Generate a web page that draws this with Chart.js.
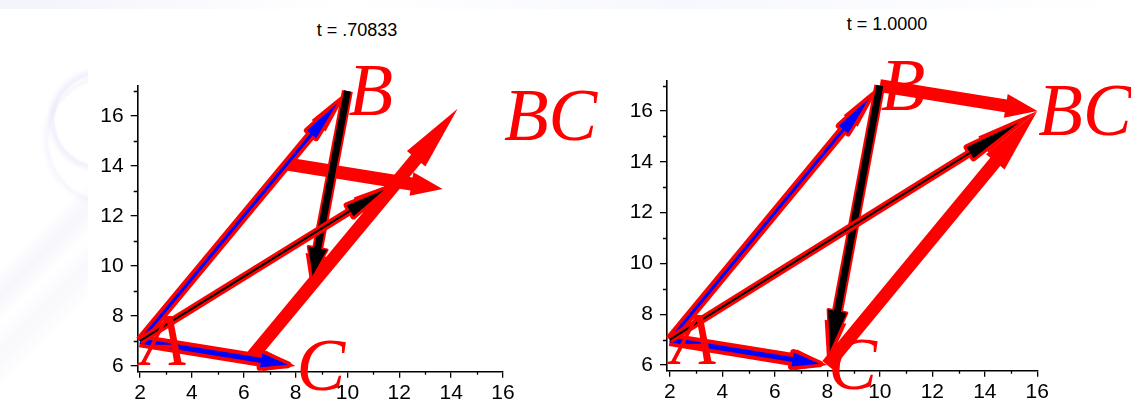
<!DOCTYPE html>
<html><head><meta charset="utf-8">
<script src="https://cdn.jsdelivr.net/npm/chart.js@4.4.1/dist/chart.umd.min.js"></script>
<style>
html,body{margin:0;padding:0;background:#fff;width:1131px;height:403px;overflow:hidden;position:relative;font-family:"Liberation Sans",Arial,sans-serif;}
#wm{position:absolute;left:0;top:0;width:88px;height:403px;
 background:
  radial-gradient(circle at 100px 120px, rgba(255,255,255,0) 44px, rgba(214,204,240,.3) 47px, rgba(255,255,255,0) 54px),
  radial-gradient(circle at 110px 140px, rgba(255,255,255,0) 60px, rgba(225,218,245,.25) 63px, rgba(255,255,255,0) 70px),
  linear-gradient(135deg, rgba(255,255,255,0) 55%, rgba(225,225,245,.3) 60%, rgba(255,255,255,0) 66%, rgba(230,230,248,.25) 72%, rgba(255,255,255,0) 80%);}
#wt{position:absolute;left:0;top:0;width:1131px;height:9px;background:linear-gradient(90deg,rgba(230,232,248,.5),rgba(255,255,255,0) 30%,rgba(235,238,250,.4) 60%,rgba(255,255,255,0));}
canvas{position:absolute;top:0;}
#c1{left:0;} #c2{left:566px;}
.title{position:absolute;font-size:18px;line-height:22px;transform:translateX(-50%);white-space:pre;color:#000;}
</style></head><body>
<div id="wm"></div><div id="wt"></div>
<div class="title" id="t1" style="left:357px;top:19px;"></div>
<div class="title" id="t2" style="left:887px;top:13px;"></div>
<canvas id="c2" width="565" height="403"></canvas>
<canvas id="c1" width="640" height="403"></canvas>
<script>
// ---------- data ----------
const xTicks = [2, 4, 6, 8, 10, 12, 14, 16];
const yTicks = [6, 8, 10, 12, 14, 16];
const xMinor = [3, 5, 7, 9, 11, 13, 15];
const yMinor = [7, 9, 11, 13, 15, 17];
const titles = ['t = .70833', 't = 1.0000'];
const labelText = ['A', 'B', 'C', 'BC'];
const labelX = [2, 10, 8, 16];
const labelY = [7, 17, 6, 16];
// arrows: A->B, A->C, B->C (moving), A->BC (moving), shifted A->C, shifted A->B
const leftTail = [[2, 7], [2, 7], [10, 17], [2, 7], [7.67, 14.08], [6.25, 6.29]];
const leftTip = [[10, 17], [8, 6], [8.58, 9.21], [11.92, 13.37], [13.67, 13.08], [14.25, 16.29]];
const leftInnerTip = [[9.6, 16.5], [7.7, 6.05], [8.65, 9.6], [11.42, 13.05], null, null];
const rightTail = [[2, 7], [2, 7], [10, 17], [2, 7], [10, 17], [8, 6]];
const rightTip = [[10, 17], [8, 6], [8, 6], [16, 16], [16, 16], [16, 16]];
const rightInnerTip = [[9.6, 16.5], [7.7, 6.05], [8.1, 6.55], [15.3, 15.55], null, null];

// ---------- styles ----------
const RED = '#ff0000';
const arrowStyle = [
  {under: 10, inner: 3, color: '#0000ff', headW: 12, headFrac: 0.13, outline: 3},
  {under: 13, inner: 5, color: '#0000ff', headW: 14, headFrac: 0.18, outline: 3.5},
  {under: 11, inner: 7, color: '#000000', headW: 19, headFrac: 0.15, outline: 1.5},
  {under: 8, inner: 2, color: '#000000', headW: 13, headFrac: 0.14, outline: 3},
  {under: 13, headW: 24, headFrac: 0.2},
  {under: 13, headW: 24, headFrac: 0.2}
];
const drawSeq = [4, 5, 0, 1, 2, 3];

function pt(p) { return {x: p[0], y: p[1]}; }
function buildDatasets(tails, tips, innerTips) {
  const list = [];
  drawSeq.forEach(i => {
    const s = arrowStyle[i];
    list.push({
      data: [pt(tails[i]), pt(tips[i])], borderColor: RED, borderWidth: s.under,
      arrow: {w: s.outline ? s.headW + 2 * s.outline : s.headW, frac: s.headFrac, extra: s.outline || 0, fill: RED}
    });
    if (innerTips[i]) {
      list.push({
        data: [pt(tails[i]), pt(innerTips[i])], borderColor: s.color, borderWidth: s.inner,
        arrow: {w: s.headW, frac: s.headFrac, extra: 0, fill: s.color, outline: s.outline}
      });
    }
  });
  list.forEach((d, k) => Object.assign(d, {
    order: list.length - k, showLine: true, pointRadius: 0, pointHoverRadius: 0,
    fill: false, tension: 0, clip: false, borderCapStyle: 'butt', borderJoinStyle: 'miter'
  }));
  return list;
}

function headPath(ctx, g, w) {
  const bx = g.tx - g.ux * g.hl, by = g.ty - g.uy * g.hl;
  const nx = -g.uy, ny = g.ux;
  ctx.beginPath();
  ctx.moveTo(g.tx, g.ty);
  ctx.lineTo(bx + nx * w / 2, by + ny * w / 2);
  ctx.lineTo(bx - nx * w / 2, by - ny * w / 2);
  ctx.closePath();
}

const arrowPlugin = {
  id: 'arrowHeads',
  beforeDatasetDraw(chart, args) {
    const ds = chart.data.datasets[args.index];
    const a = ds.arrow; if (!a) return;
    const p0 = args.meta.data[0], p1 = args.meta.data[1];
    const dx = p1.x - p0.x, dy = p1.y - p0.y, L = Math.hypot(dx, dy);
    const g = {tx: p1.x, ty: p1.y, ux: dx / L, uy: dy / L, hl: a.frac * L + a.extra};
    a._g = g;
    const ctx = chart.ctx;
    if (a.outline) {
      ctx.save();
      headPath(ctx, g, a.w);
      ctx.lineJoin = 'round';
      ctx.lineWidth = 2 * a.outline;
      ctx.strokeStyle = RED;
      ctx.stroke();
      ctx.restore();
    }
    p1.x = g.tx - g.ux * g.hl * 0.8;
    p1.y = g.ty - g.uy * g.hl * 0.8;
  },
  afterDatasetDraw(chart, args) {
    const ds = chart.data.datasets[args.index];
    const a = ds.arrow; if (!a || !a._g) return;
    const p1 = args.meta.data[1];
    p1.x = a._g.tx; p1.y = a._g.ty;
    const ctx = chart.ctx;
    ctx.save();
    headPath(ctx, a._g, a.w);
    ctx.fillStyle = a.fill;
    ctx.fill();
    ctx.restore();
  },
  afterDatasetsDraw(chart) {
    const ctx = chart.ctx, xs = chart.scales.x, ys = chart.scales.y;
    ctx.save();
    ctx.font = 'italic 73px "Liberation Serif", "Times New Roman", serif';
    ctx.fillStyle = RED;
    ctx.textAlign = 'left';
    ctx.textBaseline = 'alphabetic';
    labelText.forEach((t, i) => {
      ctx.fillText(t, xs.getPixelForValue(labelX[i]) + 1, ys.getPixelForValue(labelY[i]) + 24);
    });
    ctx.restore();
  },
  afterDraw(chart) {
    const ctx = chart.ctx, xs = chart.scales.x, ys = chart.scales.y;
    const ca = chart.chartArea;
    ctx.save();
    ctx.strokeStyle = '#000';
    ctx.lineWidth = 1.3;
    ctx.beginPath();
    xMinor.forEach(v => { const x = Math.round(xs.getPixelForValue(v)) + 0.5; ctx.moveTo(x, ca.bottom); ctx.lineTo(x, ca.bottom + 3); });
    yMinor.forEach(v => { const y = Math.round(ys.getPixelForValue(v)) + 0.5; ctx.moveTo(ca.left, y); ctx.lineTo(ca.left - 4, y); });
    ctx.stroke();
    ctx.restore();
  }
};

function makeChart(id, tails, tips, innerTips, geom) {
  const tickFont = {family: '"Liberation Sans", Arial, sans-serif', size: 21};
  return new Chart(document.getElementById(id), {
    type: 'scatter',
    data: {datasets: buildDatasets(tails, tips, innerTips)},
    plugins: [arrowPlugin],
    options: {
      responsive: false, animation: false, events: [],
      layout: {padding: {left: 0, top: geom.top, right: geom.right, bottom: 0}},
      plugins: {legend: {display: false}, tooltip: {enabled: false}, title: {display: false}},
      scales: {
        x: {
          type: 'linear', min: geom.xmin, max: 16,
          afterBuildTicks: s => { s.ticks = xTicks.map(v => ({value: v})); },
          afterFit: s => { s.height = geom.xh; },
          grid: {drawOnChartArea: false, drawTicks: true, tickLength: 6, color: '#000', lineWidth: 1.3},
          border: {display: true, color: '#000', width: 1.6},
          ticks: {color: '#000', font: tickFont, padding: 3, autoSkip: false, maxRotation: 0}
        },
        y: {
          type: 'linear', min: geom.ymin, max: geom.ymax,
          afterBuildTicks: s => { s.ticks = yTicks.map(v => ({value: v})); },
          afterFit: s => { s.width = geom.yw; },
          grid: {drawOnChartArea: false, drawTicks: true, tickLength: 7, color: '#000', lineWidth: 1.3},
          border: {display: true, color: '#000', width: 1.6},
          ticks: {color: '#000', font: tickFont, padding: 7, autoSkip: false}
        }
      }
    }
  });
}

document.getElementById('t1').textContent = titles[0];
document.getElementById('t2').textContent = titles[1];
makeChart('c2', rightTail, rightTip, rightInnerTip, {top: 81, right: 565 - 471.3, xh: 403 - 370.7, yw: 101, xmin: 1.89, ymin: 5.78, ymax: 17.18});
makeChart('c1', leftTail, leftTip, leftInnerTip, {top: 86, right: 640 - 503, xh: 403 - 371.7, yw: 137.7, xmin: 1.91, ymin: 5.77, ymax: 17.2});
</script>
</body></html>
